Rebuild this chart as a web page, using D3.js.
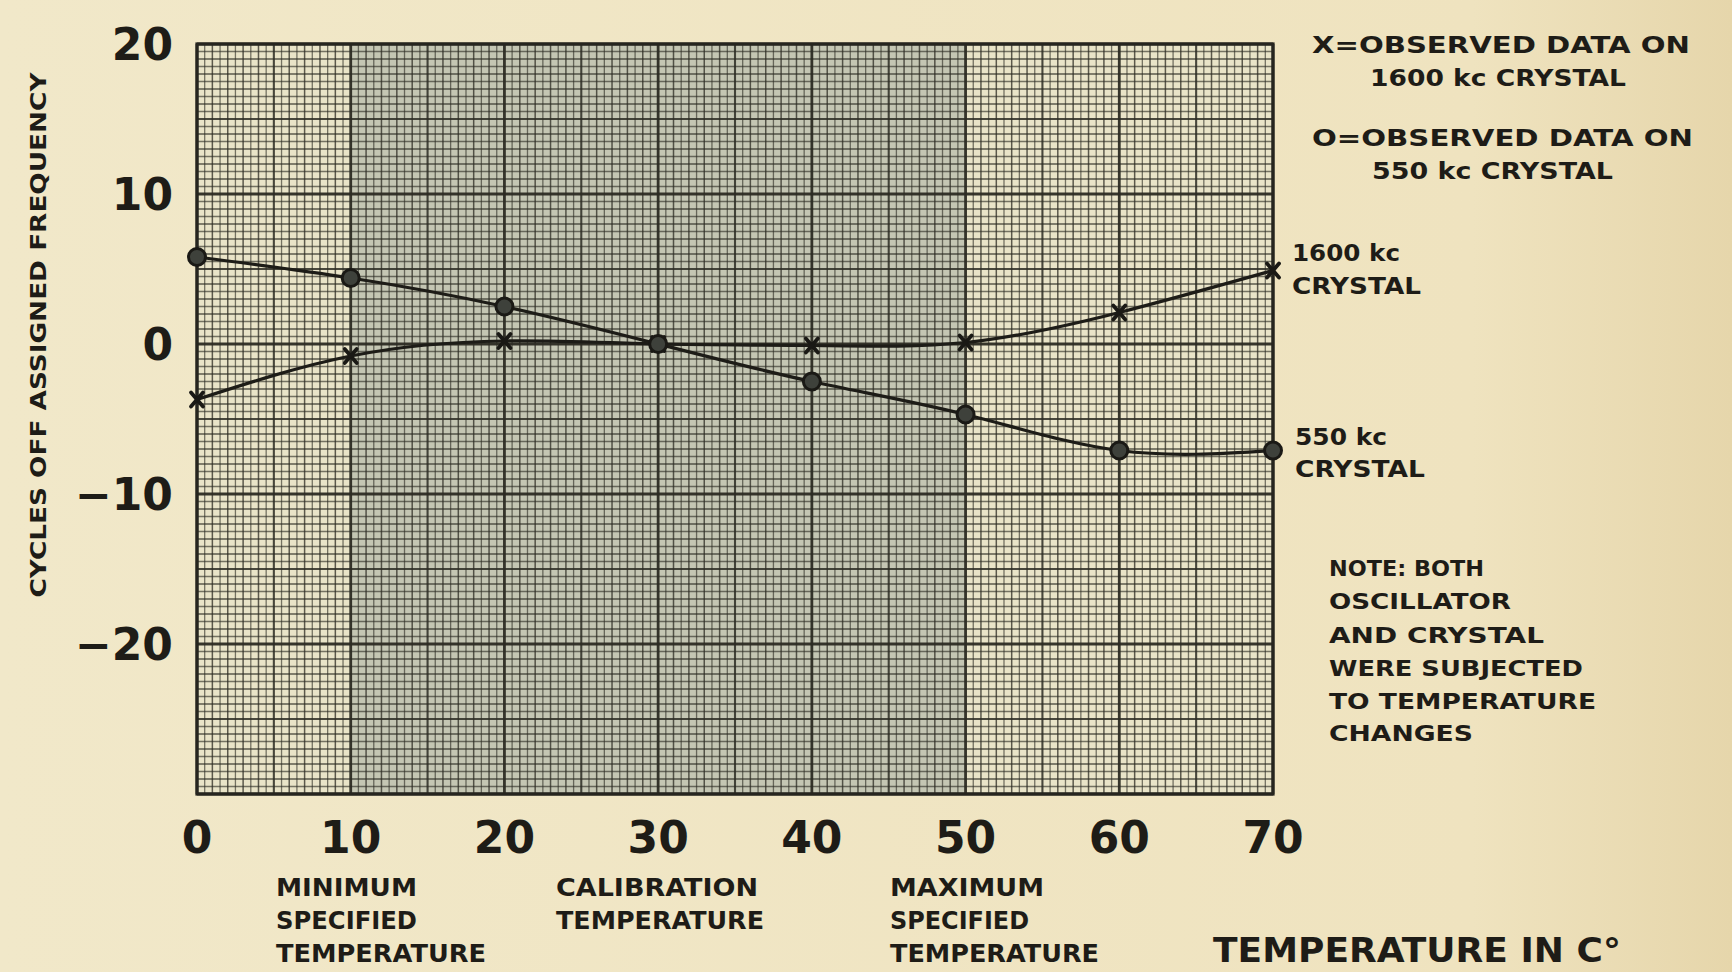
<html>
<head>
<meta charset="UTF-8">
<title>Crystal frequency vs temperature</title>
<script src="https://d3js.org/d3.v7.min.js"></script>
<style>
  body { margin: 0; background: #efe5c3; }
  svg { display: block; }
  text { font-family: "DejaVu Sans", sans-serif; font-weight: bold; fill: #1e1c17; }
</style>
</head>
<body>
<script type="text/javascript">
// data
var temps = [0, 10, 20, 30, 40, 50, 60, 70];
var kc1600 = [-3.7, -0.8, 0.2, 0, -0.1, 0.1, 2.1, 4.9];
var kc550 = [5.8, 4.4, 2.5, 0, -2.5, -4.7, -7.1, -7.1];
var xTicks = [0, 10, 20, 30, 40, 50, 60, 70];
var yTicks = [20, 10, 0, -10, -20];
var yTickText = ["20", "10", "0", "\u221210", "\u221220"];
var shaded = [10, 50];

var width = 1732, height = 972;
var plotLeft = 197, plotRight = 1273, plotTop = 44, plotBottom = 794;

var svg = d3.select("body").append("svg")
  .attr("width", width).attr("height", height);

// paper
var grad = svg.append("defs").append("linearGradient").attr("id", "paper");
grad.append("stop").attr("offset", "0%").attr("stop-color", "#f1e8c9");
grad.append("stop").attr("offset", "85%").attr("stop-color", "#efe3bf");
grad.append("stop").attr("offset", "100%").attr("stop-color", "#e6d6ab");
svg.append("rect").attr("width", width).attr("height", height).attr("fill", "url(#paper)");

var x = d3.scaleLinear().domain([0, 70]).range([plotLeft, plotRight]);
var y = d3.scaleLinear().domain([-30, 20]).range([plotBottom, plotTop]);

// graph paper
svg.append("rect")
  .attr("x", x(0)).attr("y", y(20))
  .attr("width", x(70) - x(0)).attr("height", y(-30) - y(20))
  .attr("fill", "#e9e4c8");
svg.append("rect")
  .attr("x", x(shaded[0])).attr("y", y(20))
  .attr("width", x(shaded[1]) - x(shaded[0])).attr("height", y(-30) - y(20))
  .attr("fill", "#c4c6b3");

function lineStyle(v) {
  if (Math.abs(v % 10) < 1e-6) return [2.8, 0.95];
  if (Math.abs(v % 5) < 1e-6) return [2.1, 0.85];
  if (Math.abs(v % 1) < 1e-6) return [1.5, 0.75];
  return [1.3, 0.62];
}

var grid = svg.append("g").attr("stroke", "#2c2b23");
grid.selectAll("line.v")
  .data(d3.range(0, 70.001, 0.5))
  .enter().append("line")
  .attr("class", "v")
  .attr("x1", function(d){ return x(d); })
  .attr("x2", function(d){ return x(d); })
  .attr("y1", y(20)).attr("y2", y(-30))
  .attr("stroke-width", function(d){ return lineStyle(d)[0]; })
  .attr("stroke-opacity", function(d){ return lineStyle(d)[1]; });
grid.selectAll("line.h")
  .data(d3.range(-30, 20.001, 0.5))
  .enter().append("line")
  .attr("class", "h")
  .attr("y1", function(d){ return y(d); })
  .attr("y2", function(d){ return y(d); })
  .attr("x1", x(0)).attr("x2", x(70))
  .attr("stroke-width", function(d){ return lineStyle(d)[0]; })
  .attr("stroke-opacity", function(d){ return lineStyle(d)[1]; });

svg.append("rect")
  .attr("x", x(0)).attr("y", y(20))
  .attr("width", x(70) - x(0)).attr("height", y(-30) - y(20))
  .attr("fill", "none").attr("stroke", "#26251f").attr("stroke-width", 3.2);

// curves
var line = d3.line()
  .x(function(d){ return x(d[0]); })
  .y(function(d){ return y(d[1]); })
  .curve(d3.curveNatural);

var pts1600 = temps.map(function(t, i){ return [t, kc1600[i]]; });
var pts550 = temps.map(function(t, i){ return [t, kc550[i]]; });

svg.append("path").datum(pts1600).attr("d", line)
  .attr("fill", "none").attr("stroke", "#1d1c17").attr("stroke-width", 3.2);
svg.append("path").datum(pts550).attr("d", line)
  .attr("fill", "none").attr("stroke", "#1d1c17").attr("stroke-width", 3.2);

// X markers (1600 kc)
var xm = svg.append("g").selectAll("g").data(pts1600).enter().append("g")
  .attr("transform", function(d){ return "translate(" + x(d[0]) + "," + y(d[1]) + ")"; })
  .attr("stroke", "#1a1915").attr("stroke-width", 3.8).attr("stroke-linecap", "round");
xm.append("line").attr("x1", -6).attr("y1", -7).attr("x2", 6).attr("y2", 7);
xm.append("line").attr("x1", -6).attr("y1", 7).attr("x2", 6).attr("y2", -7);

// O markers (550 kc)
svg.append("g").selectAll("circle").data(pts550).enter().append("circle")
  .attr("cx", function(d){ return x(d[0]); })
  .attr("cy", function(d){ return y(d[1]); })
  .attr("r", 8.5)
  .attr("fill", "#3e413b").attr("stroke", "#1a1915").attr("stroke-width", 3);

// axis labels
svg.append("g").selectAll("text").data(yTicks).enter().append("text")
  .attr("x", 173)
  .attr("y", function(d){ return y(d); })
  .attr("dy", "0.36em")
  .attr("text-anchor", "end")
  .style("font-size", "44px")
  .text(function(d, i){ return yTickText[i]; });

svg.append("g").selectAll("text").data(xTicks).enter().append("text")
  .attr("x", function(d){ return x(d); })
  .attr("y", 837)
  .attr("dy", "0.36em")
  .attr("text-anchor", "middle")
  .style("font-size", "44px")
  .text(function(d){ return d; });

svg.append("text")
  .attr("transform", "translate(46,335) rotate(-90)")
  .attr("text-anchor", "middle")
  .attr("textLength", 525).attr("lengthAdjust", "spacingAndGlyphs")
  .style("font-size", "22px")
  .text("CYCLES OFF ASSIGNED FREQUENCY");

// text blocks: [text, x, baseline y, width, size]
function block(rows) {
  svg.append("g").selectAll("text").data(rows).enter().append("text")
    .attr("x", function(d){ return d[1]; })
    .attr("y", function(d){ return d[2]; })
    .attr("textLength", function(d){ return d[3]; })
    .attr("lengthAdjust", "spacingAndGlyphs")
    .style("font-size", function(d){ return d[4] + "px"; })
    .text(function(d){ return d[0]; });
}

block([
  ["X=OBSERVED DATA ON", 1312, 53, 378, 23],
  ["1600 kc  CRYSTAL", 1370, 86, 256, 23],
  ["O=OBSERVED DATA ON", 1312, 146, 381, 23],
  ["550 kc CRYSTAL", 1372, 179, 241, 23],
  ["1600 kc", 1292, 261, 108, 23],
  ["CRYSTAL", 1292, 294, 129, 23],
  ["550 kc", 1295, 445, 92, 23],
  ["CRYSTAL", 1295, 477, 130, 23],
  ["NOTE: BOTH", 1329, 576, 155, 22],
  ["OSCILLATOR", 1329, 609, 182, 22],
  ["AND CRYSTAL", 1329, 643, 215, 22],
  ["WERE SUBJECTED", 1329, 676, 254, 22],
  ["TO TEMPERATURE", 1329, 709, 267, 22],
  ["CHANGES", 1329, 741, 144, 22],
  ["MINIMUM", 276, 896, 141, 24],
  ["SPECIFIED", 276, 929, 141, 24],
  ["TEMPERATURE", 276, 962, 210, 24],
  ["CALIBRATION", 556, 896, 202, 24],
  ["TEMPERATURE", 556, 929, 208, 24],
  ["MAXIMUM", 890, 896, 154, 24],
  ["SPECIFIED", 890, 929, 139, 24],
  ["TEMPERATURE", 890, 962, 209, 24],
  ["TEMPERATURE IN C\u00b0", 1213, 962, 408, 33]
]);
</script>
</body>
</html>
